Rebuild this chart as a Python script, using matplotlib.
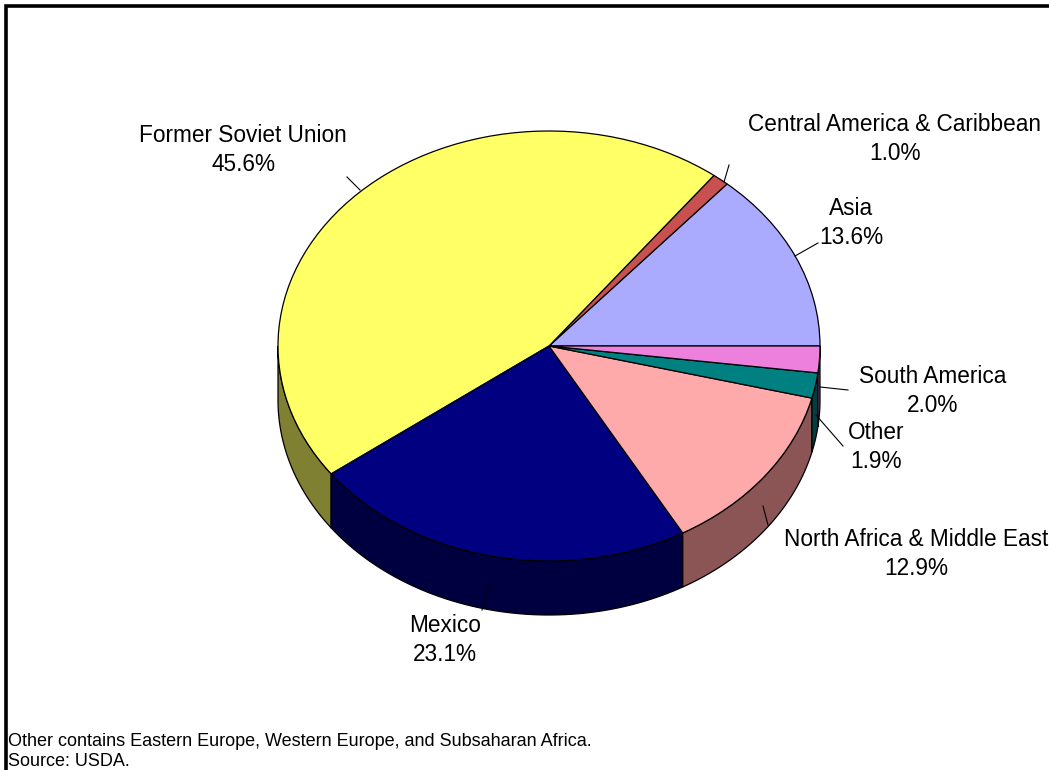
import numpy as np
import matplotlib
matplotlib.use('Agg')
import matplotlib.pyplot as plt

plt.rcParams['font.family'] = ['Liberation Sans', 'DejaVu Sans']

# 数据
regions = ['Asia', 'Central America & Caribbean', 'Former Soviet Union', 'Mexico',
           'North Africa & Middle East', 'Other', 'South America']
shares = [13.6, 1.0, 45.6, 23.1, 12.9, 1.9, 2.0]
top_colors = ['#AAAAFF', '#C85050', '#FFFF66', '#000080', '#FFAAAA', '#008080', '#EE80DD']
wall_colors = ['#555580', '#642828', '#808033', '#000040', '#8C5555', '#004040', '#804080']
footnotes = ['Other contains Eastern Europe, Western Europe, and Subsaharan Africa.', 'Source: USDA.']

W, H = 1049, 770
CX, CY, RX, RY, DEPTH = 549, 346, 271, 215, 54

fig = plt.figure(figsize=(W / 100, H / 100), dpi=100)

# 饼图坐标: 圆心在原点, 半径为1, 靠坐标范围压成椭圆
ax = fig.add_axes((0, 0, 1, 1))
depth = DEPTH / RY
ax.set_frame_on(False)

# 侧面
bounds = np.cumsum([0] + shares) / sum(shares) * 2 * np.pi
for i, color in enumerate(wall_colors):
    lo, hi = max(bounds[i], np.pi), bounds[i + 1]
    if hi <= lo:
        continue
    t = np.linspace(lo, hi, 80)
    xs = np.r_[np.cos(t), np.cos(t[::-1])]
    ys = np.r_[np.sin(t), np.sin(t[::-1]) - depth]
    ax.fill(xs, ys, facecolor=color, edgecolor='black', linewidth=0.9, zorder=1)

# 顶面
ax.pie(shares, colors=top_colors, startangle=0, counterclock=True, radius=1,
       wedgeprops={'edgecolor': 'black', 'linewidth': 0.9, 'zorder': 2})
ax.set_xlim(-CX / RX, (W - CX) / RX)
ax.set_ylim((CY - H) / RY, CY / RY)
ax.set_aspect('auto')

# 文字和引线用像素坐标
over = fig.add_axes((0, 0, 1, 1))
over.set_xlim(0, W)
over.set_ylim(H, 0)
over.axis('off')
over.patch.set_alpha(0)

# 边框
over.plot([5.5, 5.5, W], [H, 5.5, 5.5], color='black', linewidth=2.6, solid_joinstyle='miter')

leaders = [
    ((818, 243), (795, 256)),
    ((729, 165), (724, 182)),
    ((347, 177), (360, 190)),
    ((490, 585), (482, 610)),
    ((763, 506), (768, 525)),
    ((843, 446), (816, 415)),
    ((848, 390), (820, 387)),
]
for (x0, y0), (x1, y1) in leaders:
    over.plot([x0, x1], [y0, y1], color='black', linewidth=0.8)

label_pos = [(851, 223), (895, 139), (243, 150), (445, 640), (916, 554), (876, 447), (933, 391)]
for name, val, (x, y) in zip(regions, shares, label_pos):
    over.text(x, y, f'{name}\n{val:.1f}%', ha='center', va='center', fontsize=16.3,
              linespacing=1.31, color='black')

over.text(8, 742, footnotes[0], ha='left', va='center', fontsize=13)
over.text(8, 761, footnotes[1], ha='left', va='center', fontsize=13)

fig.savefig('out.png', dpi=100)
plt.close(fig)
